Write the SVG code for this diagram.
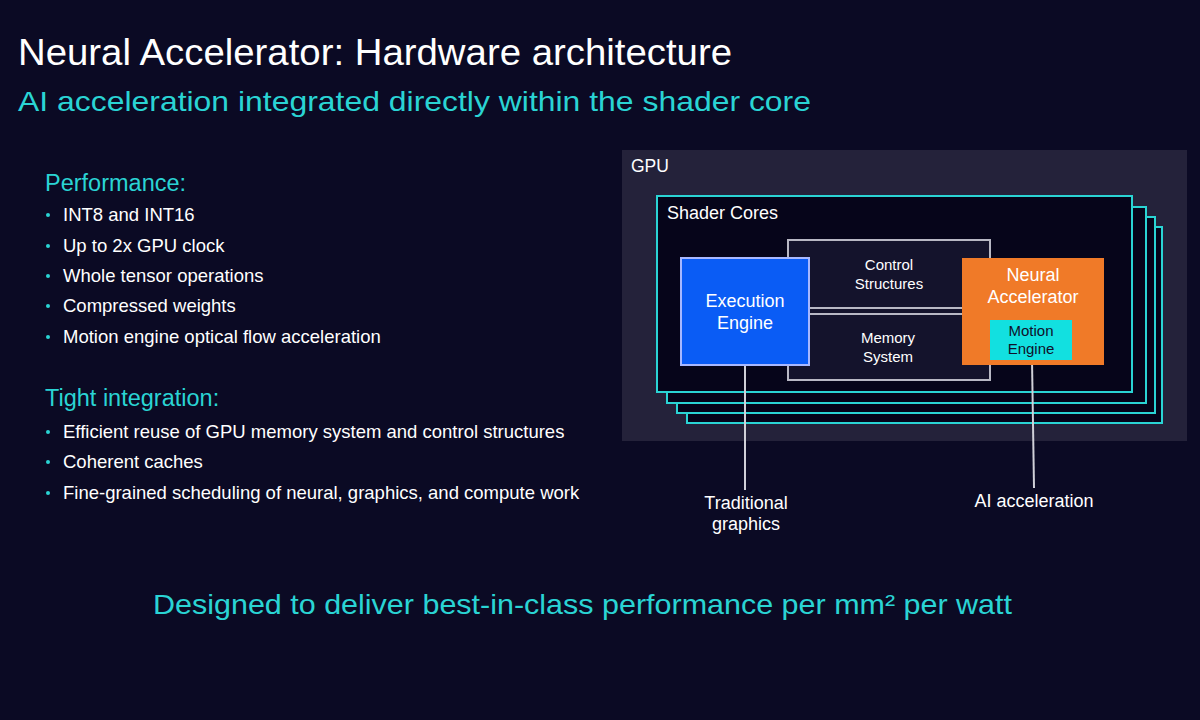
<svg xmlns="http://www.w3.org/2000/svg" width="1200" height="720" viewBox="0 0 1200 720">
<style>
text{font-family:"Liberation Sans",Arial,sans-serif}
.w{fill:#ffffff}
.c{fill:#2ad4d4}
.b{fill:#ffffff;font-size:18.5px}
.d{fill:#2ad4d4}
.core{fill:#06051a;stroke:#2ad4d4;stroke-width:2}
.ln{stroke:#d0d0d8;stroke-width:2;fill:none}
</style>
<rect width="1200" height="720" fill="#0b0a24"/>
<text x="18" y="65" class="w" font-size="37" textLength="714" lengthAdjust="spacingAndGlyphs">Neural Accelerator: Hardware architecture</text>
<text x="18" y="111" class="c" font-size="28" textLength="793" lengthAdjust="spacingAndGlyphs">AI acceleration integrated directly within the shader core</text>
<g id="performance">
<text x="45" y="191" class="c" font-size="23.5">Performance:</text>
<g class="b">
<text x="63" y="221">INT8 and INT16</text>
<text x="63" y="252">Up to 2x GPU clock</text>
<text x="63" y="282">Whole tensor operations</text>
<text x="63" y="312">Compressed weights</text>
<text x="63" y="343">Motion engine optical flow acceleration</text>
</g>
<g class="d"><circle cx="48" cy="215" r="2"/><circle cx="48" cy="246" r="2"/><circle cx="48" cy="276" r="2"/><circle cx="48" cy="306" r="2"/><circle cx="48" cy="337" r="2"/></g>
</g>
<g id="integration">
<text x="45" y="406" class="c" font-size="23.5">Tight integration:</text>
<g class="b">
<text x="63" y="438">Efficient reuse of GPU memory system and control structures</text>
<text x="63" y="468">Coherent caches</text>
<text x="63" y="499">Fine-grained scheduling of neural, graphics, and compute work</text>
</g>
<g class="d"><circle cx="48" cy="432" r="2"/><circle cx="48" cy="462" r="2"/><circle cx="48" cy="493" r="2"/></g>
</g>
<g id="gpu">
<rect x="622" y="150" width="565" height="291" fill="#24223a"/>
<text x="631" y="172" class="w" font-size="17.5">GPU</text>
</g>
<g id="shader-cores">
<rect x="687" y="227" width="475" height="196" class="core"/>
<rect x="677" y="217" width="478" height="196" class="core"/>
<rect x="667" y="207" width="479" height="196" class="core"/>
<rect x="657" y="196" width="475" height="196" class="core"/>
<text x="667" y="219" class="w" font-size="18">Shader Cores</text>
</g>
<g id="control-memory">
<rect x="788" y="240" width="202" height="140" fill="#14132c" stroke="#b8b8c4" stroke-width="2"/>
<line x1="788" y1="308" x2="990" y2="308" stroke="#b8b8c4" stroke-width="2"/>
<line x1="788" y1="314" x2="990" y2="314" stroke="#b8b8c4" stroke-width="2"/>
<text x="889" y="270" class="w" font-size="15" text-anchor="middle">Control</text>
<text x="889" y="289" class="w" font-size="15" text-anchor="middle">Structures</text>
<text x="888" y="343" class="w" font-size="15" text-anchor="middle">Memory</text>
<text x="888" y="362" class="w" font-size="15" text-anchor="middle">System</text>
</g>
<g id="connectors">
<line x1="745" y1="365" x2="745" y2="490" class="ln"/>
<line x1="1032" y1="360" x2="1034" y2="488" class="ln"/>
</g>
<g id="execution-engine">
<rect x="681" y="258" width="128" height="107" fill="#0a5cf5" stroke="#a8b8ff" stroke-width="2"/>
<text x="745" y="307" class="w" font-size="18" text-anchor="middle">Execution</text>
<text x="745" y="329" class="w" font-size="18" text-anchor="middle">Engine</text>
</g>
<g id="neural-accelerator">
<rect x="962" y="258" width="142" height="107" fill="#f07a28"/>
<text x="1033" y="281" class="w" font-size="18" text-anchor="middle">Neural</text>
<text x="1033" y="303" class="w" font-size="18" text-anchor="middle">Accelerator</text>
</g>
<g id="motion-engine">
<rect x="990" y="320" width="82" height="40" fill="#12e0e0"/>
<text x="1031" y="336" fill="#10102a" font-size="15" text-anchor="middle">Motion</text>
<text x="1031" y="354" fill="#10102a" font-size="15" text-anchor="middle">Engine</text>
</g>
<text x="746" y="509" class="w" font-size="18" text-anchor="middle">Traditional</text>
<text x="746" y="530" class="w" font-size="18" text-anchor="middle">graphics</text>
<text x="1034" y="507" class="w" font-size="18" text-anchor="middle">AI acceleration</text>
<text x="153" y="614" class="c" font-size="28" textLength="859" lengthAdjust="spacingAndGlyphs">Designed to deliver best-in-class performance per mm² per watt</text>
</svg>
